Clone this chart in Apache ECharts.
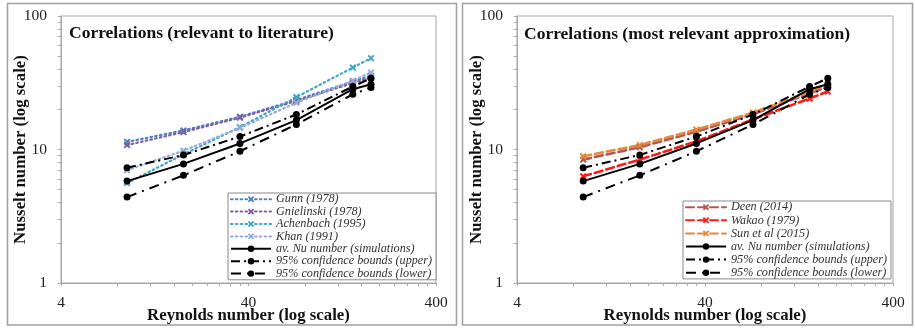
<!DOCTYPE html>
<html>
<head>
<meta charset="utf-8">
<script src="https://cdn.jsdelivr.net/npm/echarts@6/dist/echarts.min.js"></script>
<style>
html,body{margin:0;padding:0;background:#fff;}
#chart{width:915px;height:329px;}
</style>
</head>
<body>
<div id="chart"></div>
<script>
// ---- data ----
const reynolds = [9, 18, 36, 72, 144, 180];
const avgNu   = [5.8, 7.8, 11.1, 16.6, 28.3, 30.8];
const upperNu = [7.3, 9.1, 12.5, 18.3, 29.6, 34.2];
const lowerNu = [4.4, 6.4, 9.7, 15.4, 25.9, 29.1];
const gunn       = [11.4, 13.9, 17.6, 23.5, 32.3, 35.6];
const gnielinski = [10.8, 13.5, 17.3, 23.1, 31.5, 34.5];
const achenbach  = [5.6, 9.2, 14.7, 24.7, 41.1, 48.3];
const khan       = [7.0, 9.8, 14.5, 22.4, 32.8, 37.7];
const deen  = [8.4, 10.4, 13.6, 18.4, 26.3, 29.6];
const wakao = [6.3, 8.4, 11.5, 16.8, 24.1, 27.2];
const sun   = [8.9, 10.8, 14.1, 18.9, 27.0, 31.0];

const xTickLabels = [4, 40, 400];
const yTickLabels = [1, 10, 100];
const xMinorTicks = [4, 8, 12, 16, 20, 24, 28, 32, 36, 40, 80, 120, 160, 200, 240, 280, 320, 360, 400];
const yMinorTicks = [1, 2, 3, 4, 5, 6, 7, 8, 9, 10, 20, 30, 40, 50, 60, 70, 80, 90, 100];

const leftTitle = 'Correlations (relevant to literature)';
const rightTitle = 'Correlations (most relevant approximation)';
const xName = 'Reynolds number (log scale)';
const yName = 'Nusselt number (log scale)';

const nameAvg = 'av. Nu number (simulations)';
const nameUp = '95% confidence bounds (upper)';
const nameLow = '95% confidence bounds (lower)';

// ---- build ----
const pairs = ys => reynolds.map((x, i) => [x, ys[i]]);
const xMark = 'path://M2,0L5,3L8,0L10,2L7,5L10,8L8,10L5,7L2,10L0,8L3,5L0,2Z';
const serif = '"Liberation Serif", "DejaVu Serif", serif';

function corr(name, data, color, dash, idx, width) {
  return {
    name, type: 'line', data: pairs(data), xAxisIndex: idx, yAxisIndex: idx,
    symbol: xMark, symbolSize: 7, showSymbol: true,
    lineStyle: { color, width: width || 2.2, type: dash, cap: 'round' },
    itemStyle: { color }, z: 2, animation: false
  };
}
function sim(name, data, dash, idx) {
  return {
    name, type: 'line', data: pairs(data), xAxisIndex: idx, yAxisIndex: idx,
    symbol: 'circle', symbolSize: 7,
    lineStyle: { color: '#000', width: 2, type: dash },
    itemStyle: { color: '#000' }, z: 3, animation: false
  };
}

const dotted = [1.6, 3.2];
const dashed = [8, 4];

function xAxis(idx) {
  return {
    type: 'log', logBase: 10, min: 4, max: 400, gridIndex: idx,
    name: xName, nameLocation: 'middle', nameGap: 24, nameMoveOverlap: false,
    nameTextStyle: { fontFamily: serif, fontWeight: 'bold', fontSize: 16.8, color: '#111' },
    axisLine: { show: true, lineStyle: { color: '#a6a6a6', width: 1 } },
    axisTick: { show: true, inside: false, length: 3, customValues: xMinorTicks, lineStyle: { color: '#a6a6a6' } },
    axisLabel: { customValues: xTickLabels, fontFamily: serif, fontSize: 15.5, color: '#222', margin: 12 },
    splitLine: { show: false }, minorTick: { show: false }
  };
}
function yAxis(idx) {
  return {
    type: 'log', logBase: 10, min: 1, max: 100, gridIndex: idx,
    name: yName, nameLocation: 'middle', nameGap: 32, nameRotate: 90, nameMoveOverlap: false,
    nameTextStyle: { fontFamily: serif, fontWeight: 'bold', fontSize: 16.8, color: '#111' },
    axisLine: { show: true, lineStyle: { color: '#a6a6a6', width: 1 } },
    axisTick: { show: true, inside: false, length: 3, customValues: yMinorTicks, lineStyle: { color: '#a6a6a6' } },
    axisLabel: { customValues: yTickLabels, fontFamily: serif, fontSize: 15.5, color: '#222', margin: 14 },
    splitLine: { show: false }, minorTick: { show: false }
  };
}

const legendText = { fontFamily: serif, fontStyle: 'italic', fontSize: 12.2, color: '#333', lineHeight: 12.4 };

const option = {
  backgroundColor: '#fff',
  animation: false,
  graphic: [
    { type: 'rect', shape: { x: 7.5, y: 3.5, width: 449, height: 321.5 }, style: { fill: 'none', stroke: '#a0a0a0', lineWidth: 1.5 }, silent: true },
    { type: 'rect', shape: { x: 462.5, y: 3.5, width: 450, height: 321.5 }, style: { fill: 'none', stroke: '#a0a0a0', lineWidth: 1.5 }, silent: true }
  ],
  title: [
    { text: leftTitle, left: 69, top: 24, padding: 0, textStyle: { fontFamily: serif, fontWeight: 'bold', fontSize: 17.5, color: '#111' } },
    { text: rightTitle, left: 524, top: 25, padding: 0, textStyle: { fontFamily: serif, fontWeight: 'bold', fontSize: 17.5, color: '#111' } }
  ],
  grid: [
    { left: 61, top: 16, width: 375, height: 267, show: true, borderColor: '#a6a6a6', borderWidth: 1, backgroundColor: 'transparent', containLabel: false, outerBoundsMode: 'none' },
    { left: 517, top: 16, width: 376, height: 267, show: true, borderColor: '#a6a6a6', borderWidth: 1, backgroundColor: 'transparent', containLabel: false, outerBoundsMode: 'none' }
  ],
  xAxis: [xAxis(0), xAxis(1)],
  yAxis: [yAxis(0), yAxis(1)],
  legend: [
    {
      orient: 'vertical', left: 228, top: 193, itemWidth: 40, itemHeight: 8, itemGap: 0,
      padding: [0, 4, 0, 2], borderColor: '#8a8a8a', borderWidth: 1, backgroundColor: '#fff',
      data: ['Gunn (1978)', 'Gnielinski (1978)', 'Achenbach (1995)', 'Khan (1991)', nameAvg, nameUp, nameLow],
      textStyle: legendText, selectedMode: false
    },
    {
      orient: 'vertical', left: 683, top: 201, itemWidth: 40, itemHeight: 8, itemGap: 0.7,
      padding: [0, 4, 0, 2], borderColor: '#8a8a8a', borderWidth: 1, backgroundColor: '#fff',
      data: ['Deen (2014)', 'Wakao (1979)', 'Sun et al (2015)', nameAvg, nameUp, nameLow],
      textStyle: legendText, selectedMode: false
    }
  ],
  series: [
    corr('Gunn (1978)', gunn, '#4f81bd', dotted, 0),
    corr('Gnielinski (1978)', gnielinski, '#7e5fa6', dotted, 0),
    corr('Achenbach (1995)', achenbach, '#3fa9c4', dotted, 0),
    corr('Khan (1991)', khan, '#95abd9', dotted, 0),
    sim(nameAvg, avgNu, 'solid', 0),
    sim(nameUp, upperNu, [9, 4, 2, 4], 0),
    sim(nameLow, lowerNu, [10, 6, 2, 6], 0),
    corr('Deen (2014)', deen, '#b65652', dashed, 1, 2.6),
    corr('Wakao (1979)', wakao, '#ff1a1a', dashed, 1, 2.6),
    corr('Sun et al (2015)', sun, '#e48a3e', dashed, 1, 2.6),
    sim(nameAvg, avgNu, 'solid', 1),
    sim(nameUp, upperNu, [9, 4, 2, 4], 1),
    sim(nameLow, lowerNu, [10, 6, 2, 6], 1)
  ]
};

const chart = echarts.init(document.getElementById('chart'), null, { renderer: 'canvas' });
chart.setOption(option);
</script>
</body>
</html>
